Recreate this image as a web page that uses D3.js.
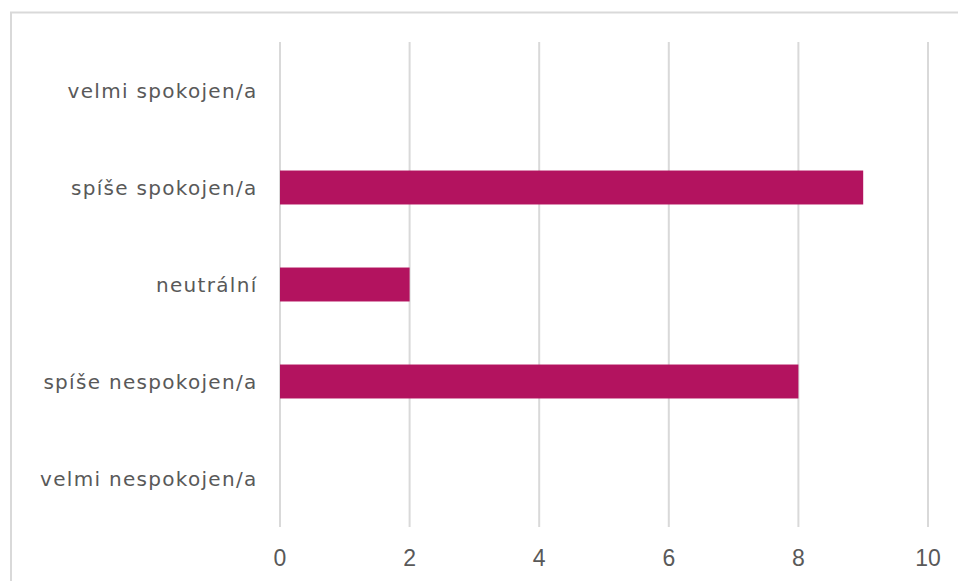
<!DOCTYPE html>
<html><head><meta charset="utf-8">
<script src="https://cdn.jsdelivr.net/npm/d3@7"></script>
<style>html,body{margin:0;padding:0;background:#fff;} svg{display:block;}</style>
</head><body>
<script>
const categories = ["velmi spokojen/a","spíše spokojen/a","neutrální","spíše nespokojen/a","velmi nespokojen/a"];
const values = [0, 9, 2, 8, 0];
const xTicks = [0, 2, 4, 6, 8, 10];

const W = 958, H = 581;
const svg = d3.select("body").append("svg").attr("width", W).attr("height", H);

svg.append("rect").attr("x", 11).attr("y", 12.5).attr("width", W + 10).attr("height", H + 10)
  .attr("fill", "#fff").attr("stroke", "#d9d9d9").attr("stroke-width", 2);

const x = d3.scaleLinear().domain([0, 10]).range([280, 928]);
const y = d3.scaleBand().domain(categories).range([42, 527]).paddingInner(0.65).paddingOuter(0.325);

const font = "'DejaVu Sans', sans-serif";

svg.append("g").selectAll("line").data(xTicks).join("line")
  .attr("x1", d => x(d)).attr("x2", d => x(d)).attr("y1", 42).attr("y2", 527)
  .attr("stroke", "#d9d9d9").attr("stroke-width", 2);

svg.append("g").selectAll("rect").data(categories).join("rect")
  .attr("x", x(0)).attr("y", d => y(d))
  .attr("width", (d, i) => x(values[i]) - x(0)).attr("height", y.bandwidth())
  .attr("fill", "#B3135F");

svg.append("g").selectAll("text").data(categories).join("text")
  .attr("x", 257.5).attr("y", d => y(d) + y.bandwidth() / 2)
  .attr("text-anchor", "end").attr("dominant-baseline", "central")
  .attr("font-family", font).attr("font-size", 20).attr("letter-spacing", 1.3).attr("fill", "#595959")
  .text(d => d);

svg.append("g").selectAll("text").data(xTicks).join("text")
  .attr("x", d => x(d)).attr("y", 558)
  .attr("text-anchor", "middle").attr("dominant-baseline", "central")
  .attr("font-family", "'Liberation Sans', sans-serif").attr("font-size", 23).attr("fill", "#595959")
  .text(d => d);
</script>
</body></html>
